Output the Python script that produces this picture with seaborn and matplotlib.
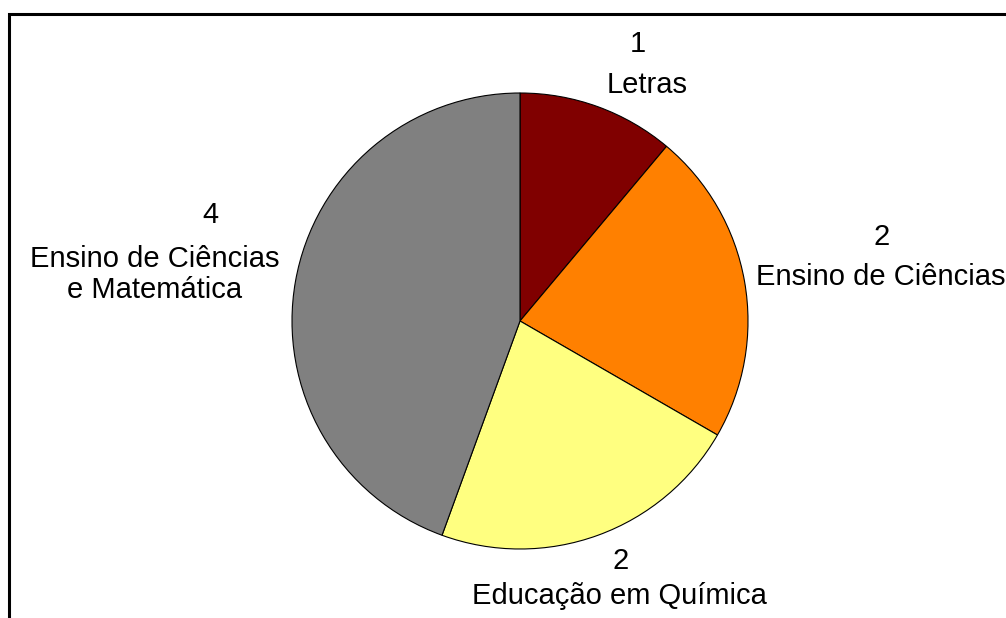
import matplotlib
matplotlib.use("Agg")
import matplotlib.pyplot as plt
import seaborn as sns
from matplotlib.patches import Rectangle

# Data
areas = ["Letras", "Ensino de Ciências", "Educação em Química", "Ensino de Ciências\ne Matemática"]
counts = [1, 2, 2, 4]
colors = ["#800000", "#FF8000", "#FFFF80", "#808080"]

sns.set_theme(style="white")
plt.rcParams["font.family"] = ["Liberation Sans", "DejaVu Sans"]

W, H = 1006, 618
fig = plt.figure(figsize=(W / 100, H / 100), dpi=100)
fig.patch.set_facecolor("white")

# pie axes: center (520, 321) px, radius 228 px
cx, cy, r = 520, 321, 228
ax = fig.add_axes([(cx - r) / W, (H - cy - r) / H, 2 * r / W, 2 * r / H])
ax.pie(counts, colors=colors, startangle=90, counterclock=False, radius=1,
       wedgeprops=dict(edgecolor="black", linewidth=0.8))
ax.set_xlim(-1, 1)
ax.set_ylim(-1, 1)
ax.set_axis_off()

# label placement (pixel coords): (x_number, baseline_number, x_name, baseline_name)
label_pos = [
    (638, 52, 647, 93),
    (882, 245, 881, 285),
    (621, 569, 619, 604),
    (210, 223, 155, 267),
]
fs = 21
for area, n, (xn, yn, xa, ya) in zip(areas, counts, label_pos):
    fig.text(xn / W, 1 - yn / H, str(n), ha="center", va="baseline", fontsize=fs, color="black")
    lines = area.split("\n")
    for i, line in enumerate(lines):
        yy = ya + i * 31
        fig.text(xa / W, 1 - yy / H, line, ha="center", va="baseline", fontsize=fs, color="black")

# outer frame (only top and left visible)
top = 1 - 14 / H
fig.patches.append(Rectangle((9 / W, -0.2), 1.2, top + 0.2, transform=fig.transFigure,
                             fill=False, edgecolor="black", linewidth=2.2))

fig.savefig("out.png", dpi=100, facecolor="white")
